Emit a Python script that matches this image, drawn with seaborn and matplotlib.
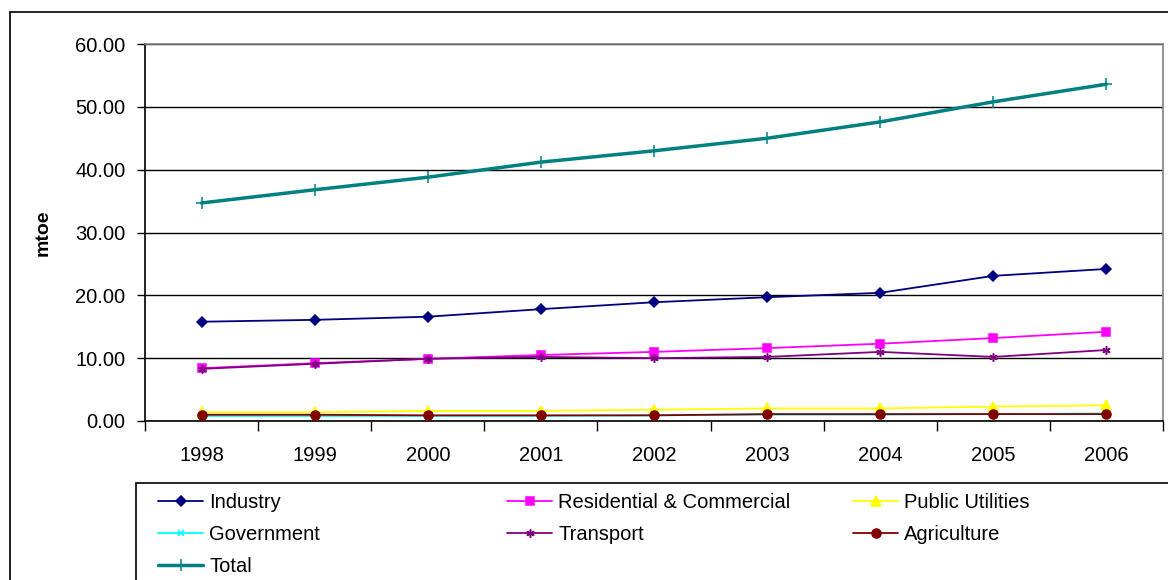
import matplotlib
matplotlib.use("Agg")
import matplotlib.pyplot as plt
from matplotlib.patches import Rectangle
from matplotlib.lines import Line2D
import seaborn as sns

years = ["1998", "1999", "2000", "2001", "2002", "2003", "2004", "2005", "2006"]

industry = [15.8, 16.1, 16.6, 17.8, 18.9, 19.7, 20.4, 23.1, 24.2]
residential = [8.4, 9.2, 9.9, 10.5, 11.0, 11.6, 12.3, 13.2, 14.2]
public_utilities = [1.4, 1.4, 1.6, 1.6, 1.8, 2.0, 2.0, 2.3, 2.5]
government = [0.8, 0.8, 0.8, 0.8, 0.9, 1.0, 1.0, 1.1, 1.2]
transport = [8.3, 9.1, 9.9, 10.2, 10.0, 10.2, 11.0, 10.2, 11.3]
agriculture = [1.0, 1.0, 0.9, 0.9, 0.9, 1.1, 1.1, 1.1, 1.1]
total = [34.7, 36.8, 38.8, 41.2, 43.0, 45.0, 47.6, 50.8, 53.6]

ASTERISK = (6, 2, 0)

# name, values, colour, marker, markersize, linewidth
series = [
    ("Industry", industry, "#000080", "D", 5.5, 1.3),
    ("Residential & Commercial", residential, "#FF00FF", "s", 5.5, 1.3),
    ("Public Utilities", public_utilities, "#FFFF00", "^", 7, 1.3),
    ("Government", government, "#00FFFF", "x", 5, 1.3),
    ("Transport", transport, "#800080", ASTERISK, 6, 1.3),
    ("Agriculture", agriculture, "#800000", "o", 6.5, 1.3),
    ("Total", total, "#008080", "+", 9, 2.5),
]

sns.set_style("white")
plt.rcParams["font.family"] = ["Liberation Sans", "DejaVu Sans"]
plt.rcParams["text.color"] = "black"
plt.rcParams["xtick.color"] = "black"
plt.rcParams["ytick.color"] = "black"
plt.rcParams["axes.labelcolor"] = "black"

FS = 14.5

fig = plt.figure(figsize=(11.68, 5.8), dpi=100)
ax = fig.add_axes([145 / 1168, 1 - 421 / 580, 1018 / 1168, 377 / 580])

x = list(range(len(years)))
handles = {}
for name, vals, color, marker, ms, lw in series:
    sns.lineplot(x=x, y=vals, ax=ax, color=color, marker=marker, markersize=ms,
                 linewidth=lw, markeredgecolor=color, markerfacecolor=color,
                 markeredgewidth=1.1, zorder=3)
    handles[name] = Line2D([], [], color=color, marker=marker, markersize=ms,
                           linewidth=lw, markeredgecolor=color,
                           markerfacecolor=color, markeredgewidth=1.1)

ax.set_xlim(-0.5, len(years) - 0.5)
ax.set_ylim(0, 60)
ax.set_yticks(range(0, 61, 10))
ax.set_yticklabels([f"{v:.2f}" for v in range(0, 61, 10)], fontsize=FS)
ax.set_xticks(x)
ax.set_xticklabels(years, fontsize=FS)
ax.set_xticks([i - 0.5 for i in range(len(years) + 1)], minor=True)
ax.tick_params(axis="x", which="major", length=0, pad=18)
ax.tick_params(axis="x", which="minor", length=7, width=1, color="black",
               direction="out", bottom=True)
ax.tick_params(axis="y", length=6, width=1, color="black", direction="out",
               left=True, pad=8)
ax.yaxis.grid(True, color="black", linewidth=1)
ax.set_axisbelow(True)
ax.set_xlabel("")
ax.set_ylabel("mtoe", fontsize=14, fontweight="bold", labelpad=17)

for side in ["left", "bottom"]:
    ax.spines[side].set_color("black")
    ax.spines[side].set_linewidth(1.2)
for side in ["top", "right"]:
    ax.spines[side].set_color("#808080")
    ax.spines[side].set_linewidth(1.2)

# outer chart border and legend box (both run off the picture)
fig.patches.append(Rectangle((10 / 1168, -0.5), 2, 0.5 + 1 - 12 / 580,
                             transform=fig.transFigure, fill=False,
                             edgecolor="black", linewidth=1.2))
fig.patches.append(Rectangle((136 / 1168, -0.5), 2, 0.5 + 1 - 483 / 580,
                             transform=fig.transFigure, fill=False,
                             edgecolor="black", linewidth=1.2))

columns = [
    (158, ["Industry", "Government", "Total"]),
    (507, ["Residential & Commercial", "Transport"]),
    (853, ["Public Utilities", "Agriculture"]),
]
for xpix, names in columns:
    fig.legend([handles[n] for n in names], names, loc="upper left",
               bbox_to_anchor=(xpix / 1168, 1 - 493 / 580), frameon=False,
               fontsize=FS, handlelength=2.25, handletextpad=0.3,
               labelspacing=0.64, borderaxespad=0, borderpad=0)

fig.savefig("out.png", dpi=100)
